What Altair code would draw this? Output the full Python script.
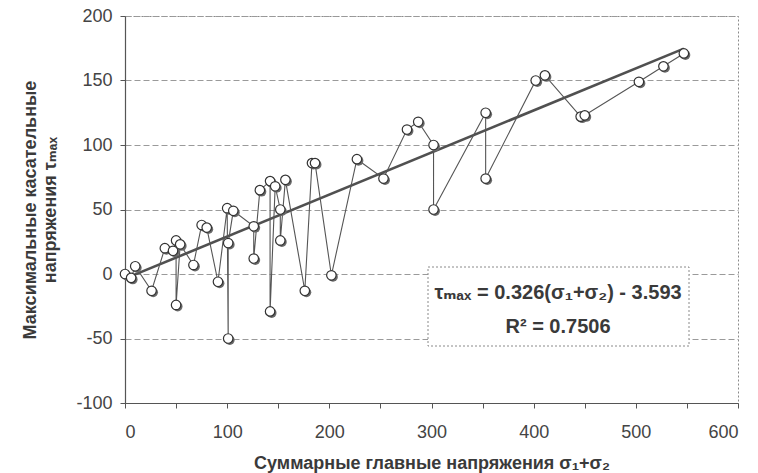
import altair as alt
import pandas as pd

# Суммарные главные напряжения σ1+σ2 (x) и максимальные касательные напряжения τmax (y)
sum_stress = [0, 6, 10, 26, 39, 47, 50, 50, 54, 67, 75, 80, 91, 100, 101, 101, 106,
              126, 126, 132, 142, 142, 147, 152, 152, 157, 176, 183, 186, 202, 227,
              253, 276, 287, 302, 302, 353, 353, 402, 411, 446, 450, 503, 527, 547]
tau_max = [0, -3, 6, -13, 20, 18, 26, -24, 23, 7, 38, 36, -6, 51, -50, 24, 49,
           37, 12, 65, 72, -29, 68, 50, 26, 73, -13, 86, 86, -1, 89,
           74, 112, 118, 100, 50, 125, 74, 150, 154, 122, 123, 149, 161, 171]

slope = 0.326
intercept = -3.593
eq_lines = ["τₘₐₓ = 0.326(σ₁+σ₂) - 3.593", "R² = 0.7506"]

x_ticks = list(range(0, 601, 50))
y_ticks = list(range(-100, 201, 50))

df = pd.DataFrame({"s": sum_stress, "t": tau_max, "i": list(range(len(sum_stress)))})
trend_x = [min(sum_stress), max(sum_stress)]
trend = pd.DataFrame({"s": trend_x, "t": [slope * v + intercept for v in trend_x]})

FONT = "Liberation Sans, DejaVu Sans, Arial"
TXT = "#3a3a3a"

xenc = alt.X("s:Q", scale=alt.Scale(domain=[0, 600], nice=False),
             axis=alt.Axis(values=x_ticks,
                           labelExpr="datum.value % 100 == 0 ? '' + datum.value : ''",
                           grid=False, tickSize=5, labelPadding=15,
                           title="Суммарные главные напряжения σ₁+σ₂",
                           titlePadding=13))
yenc = alt.Y("t:Q", scale=alt.Scale(domain=[-100, 200], nice=False),
             axis=alt.Axis(values=y_ticks, grid=True, gridDash=[6, 3],
                           labelExpr="'' + datum.value",
                           gridColor="#9a9a9a", gridWidth=1, tickSize=5,
                           labelPadding=8,
                           title=["Максимальные касательные", "напряжения τₘₐₓ"],
                           titlePadding=16))

reg = alt.Chart(trend).mark_line(color="#505050", strokeWidth=2.6).encode(x=xenc, y=yenc)
conn = alt.Chart(df).mark_line(color="#555555", strokeWidth=1.1).encode(
    x=xenc, y=yenc, order="i:Q")
shadow = alt.Chart(df).mark_circle(color="#6a6a6a", size=95, opacity=1,
                                   xOffset=1.6, yOffset=1.6).encode(x=xenc, y=yenc)
pts = alt.Chart(df).mark_point(shape="circle", filled=True, fill="white",
                               stroke="#333333", strokeWidth=1.2, size=90,
                               opacity=1).encode(x=xenc, y=yenc)

one = pd.DataFrame({"a": [0]})
box = alt.Chart(one).mark_rect(fill="white", stroke="#8a8a8a", strokeWidth=1,
                               strokeDash=[2, 2]).encode(
    x=alt.value(303), x2=alt.value(564), y=alt.value(251), y2=alt.value(330))
eq1 = alt.Chart(one).mark_text(text=eq_lines[0], font=FONT, fontSize=20,
                               fontWeight="bold", color=TXT,
                               align="center", baseline="middle").encode(
    x=alt.value(433), y=alt.value(277))
eq2 = alt.Chart(one).mark_text(text=eq_lines[1], font=FONT, fontSize=20,
                               fontWeight="bold", color=TXT,
                               align="center", baseline="middle").encode(
    x=alt.value(433), y=alt.value(311))

chart = alt.layer(reg, conn, shadow, pts, box, eq1, eq2).properties(
    width=613, height=387,
    padding={"left": 125, "top": 16, "right": 20, "bottom": 70},
    autosize=alt.AutoSizeParams(type="none"),
    background="white",
).configure_view(
    stroke="#8a8a8a", strokeDash=[2, 2], strokeWidth=1
).configure_axis(
    labelFont=FONT, labelFontSize=18, labelColor="#444444",
    titleFont=FONT, titleFontSize=18, titleFontWeight="bold", titleColor=TXT,
    domainColor="#555555", tickColor="#555555", domainWidth=1.2,
)

chart.save("out.html", embed_options={"renderer": "svg", "actions": False})
